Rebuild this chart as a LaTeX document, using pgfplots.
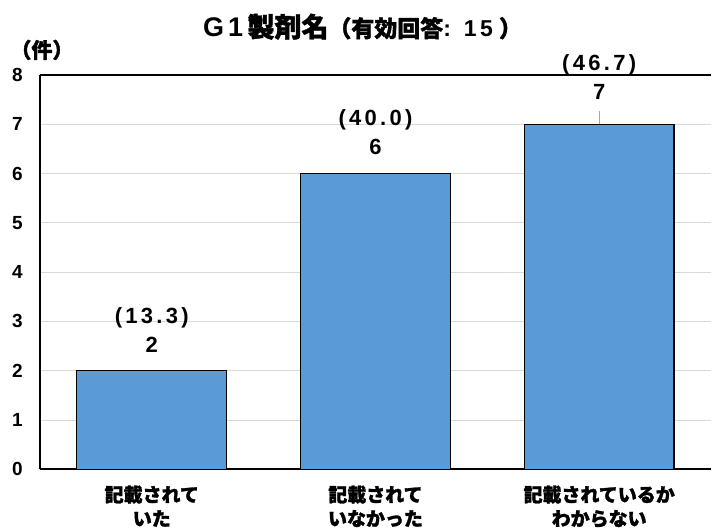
\documentclass[border=0pt]{standalone}
\usepackage{pgfplots}
\pgfplotsset{compat=1.18}
\usepackage{fontspec}
\setmainfont{Liberation Sans}
\newfontfamily\cjk{Noto Sans CJK JP}[BoldFeatures={FakeBold=1.5}]
\newfontfamily\lab{Liberation Sans}[LetterSpace=15]
\definecolor{barblue}{HTML}{5B9BD5}
\definecolor{gridgray}{HTML}{D9D9D9}
\definecolor{leader}{HTML}{A6A6A6}
\begin{document}
\begin{tikzpicture}
\begin{axis}[
  scale only axis, width=672pt, height=395pt,
  xmin=-0.5, xmax=2.5, ymin=0, ymax=8,
  axis x line*=bottom, axis y line*=left,
  x axis line style={black, line width=2pt},
  y axis line style={black, line width=1.5pt},
  ytick={0,...,7}, xtick={0,1,2},
  extra y ticks={8}, extra y tick labels={8},
  extra y tick style={grid style={black, line width=1.5pt}},
  xticklabels={{記載されて\\いた},{記載されて\\いなかった},{記載されているか\\わからない}},
  major tick length=0pt,
  ymajorgrids, grid style={gridgray, line width=1pt},
  yticklabel style={font=\bfseries\fontsize{19}{22}\selectfont, anchor=east, inner sep=0pt, xshift=-17pt},
  xticklabel style={align=center, font=\cjk\bfseries\fontsize{19}{24}\selectfont, anchor=north, inner sep=0pt, yshift=-16pt},
  /pgf/number format/assume math mode=true,
  title={{\fontsize{27}{28}\selectfont\bfseries\lab G1\,\cjk 製剤名}{\fontsize{23}{24}\selectfont\bfseries\cjk （有効回答\lab: 15\hspace{6pt}\cjk ）}},
  title style={at={(rel axis cs:0.5,1)}, anchor=base, yshift=32pt, xshift=-13pt, inner sep=0pt},
  clip=false,
  nodes near coords style={align=center, font=\lab\bfseries\fontsize{22}{29}\selectfont, anchor=south, inner sep=0pt, text=black},
]
\addplot[ybar, bar shift=0pt, bar width=150pt, fill=barblue, draw=black, line width=1.2pt,
  point meta=explicit symbolic,
  nodes near coords={(\pgfplotspointmeta)\\\pgfmathprintnumber{\pgfkeysvalueof{/data point/y}}},
  nodes near coords style={yshift=18pt}]
  coordinates {(0,2) [13.3] (1,6) [40.0]};
\addplot[ybar, bar shift=0pt, bar width=150pt, fill=barblue, draw=black, line width=1.2pt,
  point meta=explicit symbolic,
  nodes near coords={(\pgfplotspointmeta)\\\pgfmathprintnumber{\pgfkeysvalueof{/data point/y}}},
  nodes near coords style={yshift=24pt},
  error bars/.cd, y dir=plus, y explicit, error mark=none,
  error bar style={leader, line width=1.2pt}]
  coordinates {(2,7) +- (0,0.26) [46.7]};
\node[font=\cjk\bfseries\fontsize{21}{22}\selectfont, inner sep=0pt] at (rel axis cs:0,1) [xshift=2pt, yshift=25pt] {（件）};
\end{axis}
\path (current axis.south west) ++(-40pt,-58pt) rectangle ++(712pt,528pt);
\end{tikzpicture}
\end{document}
